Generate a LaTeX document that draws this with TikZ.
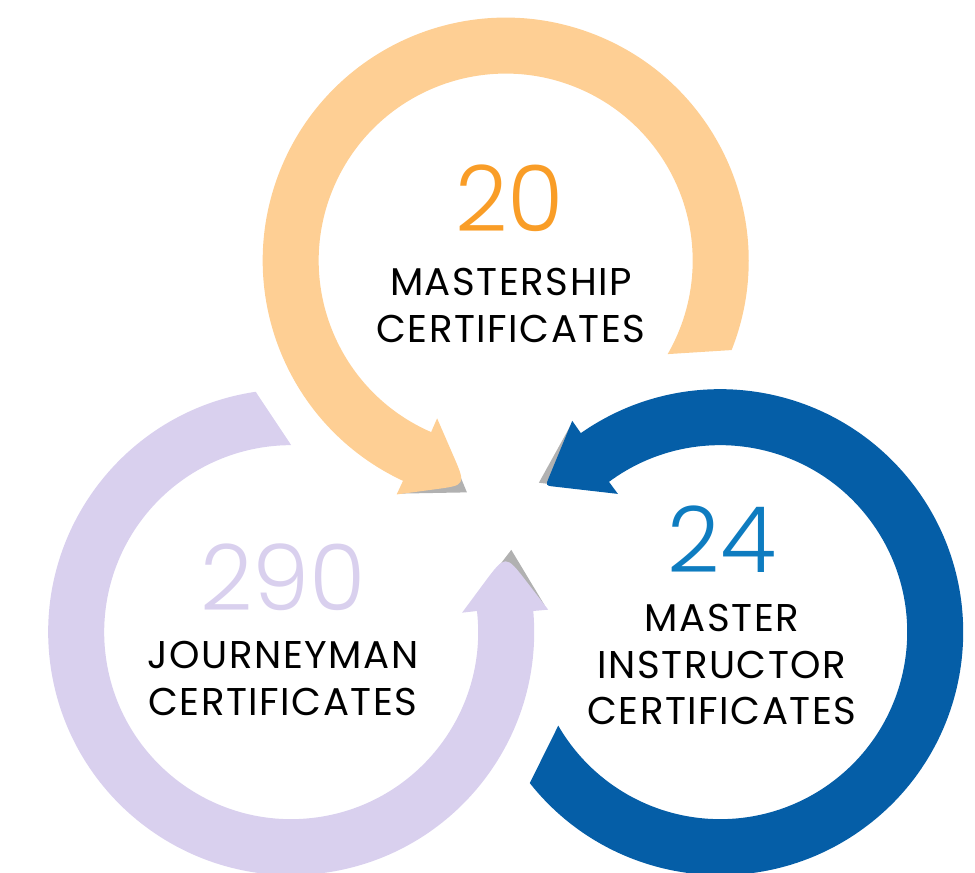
\documentclass[tikz,border=0pt]{standalone}
\usepackage{fontspec}
\setmainfont{Poppins}
\IfFontExistsTF{Poppins Light}{\newfontfamily\numfont{Poppins Light}}{\newfontfamily\numfont{Poppins}}
\usetikzlibrary{calc}
\definecolor{ringorange}{HTML}{FECF94}
\definecolor{ringpurple}{HTML}{D9D0EE}
\definecolor{ringblue}{HTML}{055EA7}
\definecolor{numorange}{HTML}{F99D27}
\definecolor{numblue}{HTML}{0E7CC0}
\definecolor{shadowgray}{HTML}{B1B1B1}
\begin{document}
\begin{tikzpicture}[x=0.01cm, y=0.01cm, line join=round,
		numtext/.style={inner sep=0pt, font=\numfont\fontsize{26}{30}\selectfont},
		captext/.style={inner sep=0pt,
			font=\addfontfeatures{LetterSpace=4}\fontsize{11}{13.4}\selectfont}]
	\useasboundingbox (0,0) rectangle (975,-872);
	\coordinate (C) at (505.7,-508.3);
	
	% three rings, each turned 120 degrees about C
	\foreach \ang/\col/\rnd in {90/ringorange/0.45, 210/ringpurple/0.5, 330/ringblue/0.12}{
		\begin{scope}[shift={($(C)+(\ang:247.7)$)}, rotate=\ang]
			\fill[shadowgray] (156:255) -- (170.5:235) -- (157.5:176) -- cycle;
			\fill[\col] (-111.6:243) arc[start angle=-111.6, end angle=155, radius=243]
				-- (155:258) -- ($(170:228)!\rnd!(155:258)$) .. controls (170:228) .. ($(170:228)!\rnd!(156.5:172)$)
				-- (156.5:172) -- (156.5:187) arc[start angle=156.5, end angle=-120, radius=187] -- cycle;
		\end{scope}
	}
	
	% mastership
	\node[numtext, text=numorange] (mnum) at (510,-198) {20};
	\node[captext] (mline1) at (511,-281.5) {MASTERSHIP};
	\node[captext] (mline2) at (511,-329) {CERTIFICATES};
	% journeyman
	\node[numtext, text=ringpurple] (jnum) at (283,-577) {290};
	\node[captext] (jline1) at (283,-655) {JOURNEYMAN};
	\node[captext] (jline2) at (283,-702) {CERTIFICATES};
	% master instructor
	\node[numtext, text=numblue] (inum) at (722,-539) {24};
	\node[captext] (iline1) at (722,-618) {MASTER};
	\node[captext] (iline2) at (722,-664.5) {INSTRUCTOR};
	\node[captext] (iline3) at (722,-711) {CERTIFICATES};
\end{tikzpicture}
\end{document}
